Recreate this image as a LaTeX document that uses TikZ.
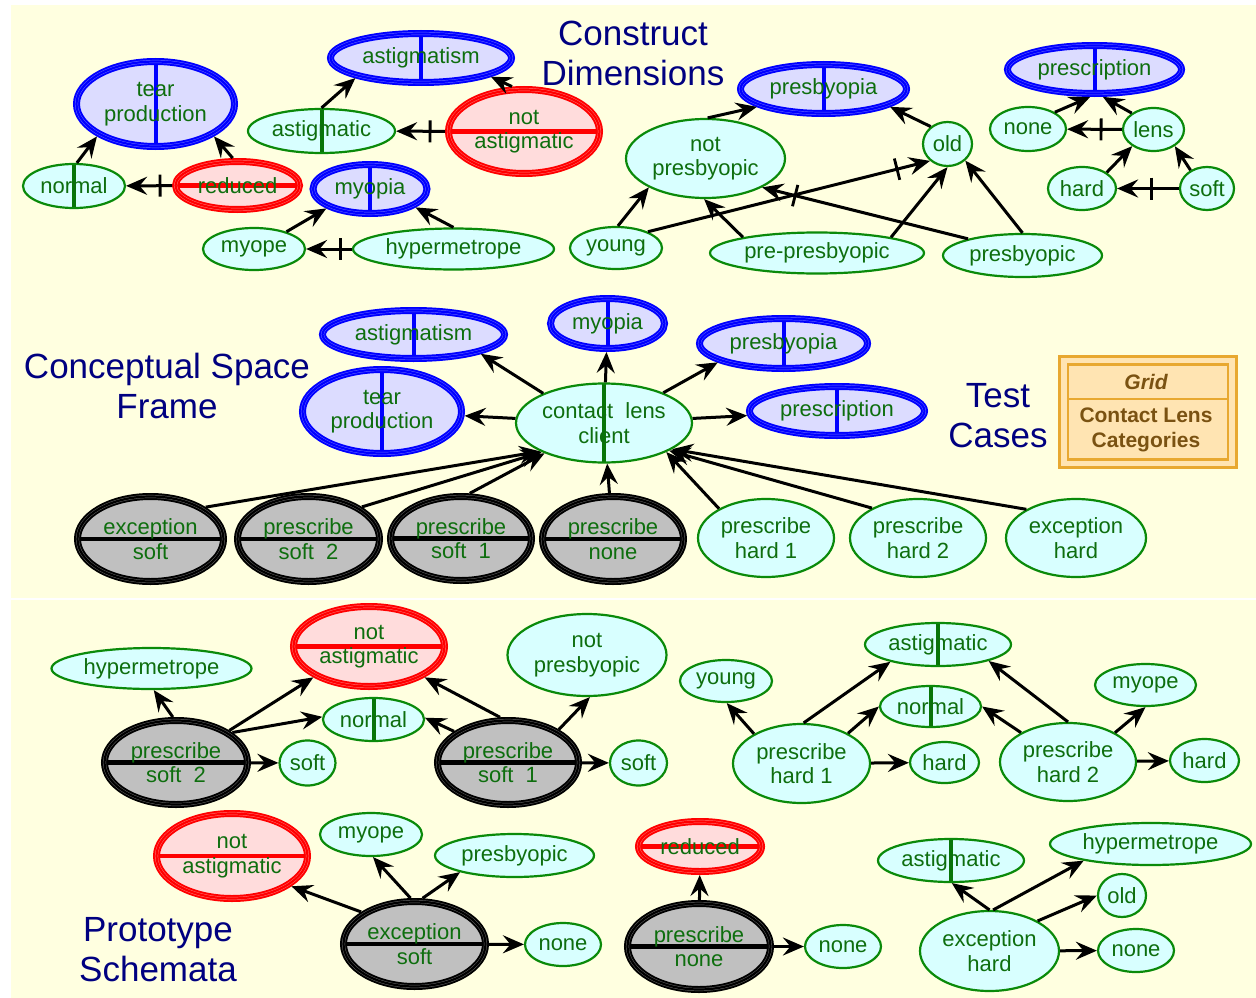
\documentclass[tikz,border=0pt]{standalone}
\usepackage{fontspec}
\setmainfont{Liberation Sans}
\usetikzlibrary{shapes.geometric,arrows.meta,decorations.markings}

\definecolor{paper}{HTML}{FFFFE0}
\definecolor{txtgreen}{HTML}{0E6E0E}
\definecolor{elemline}{HTML}{0A8A0A}
\definecolor{elemfill}{HTML}{D8FFFF}
\definecolor{confill}{HTML}{DCDCFF}
\definecolor{polefill}{HTML}{FFDCDC}
\definecolor{catfill}{HTML}{C0C0C0}
\definecolor{navytxt}{HTML}{000080}
\definecolor{gridline}{HTML}{E8A830}
\definecolor{gridfill}{HTML}{FFE4B2}
\definecolor{gridtxt}{HTML}{7A5212}

\newcommand{\nodesize}{\fontsize{22}{24.5}\selectfont}
\newcommand{\titlesize}{\fontsize{35}{40}\selectfont}

\tikzset{
  base/.style={ellipse, inner sep=0pt, text=txtgreen, font=\nodesize, align=center},
  sz/.style 2 args={minimum width=#1pt, minimum height=#2pt},
  elem/.style={base, draw=elemline, line width=2.2pt, fill=elemfill, outer sep=1.1pt},
  vsplit/.style={path picture={\draw[#1, line width=4pt] (path picture bounding box.north) -- (path picture bounding box.south);}},
  hsplit/.style={path picture={\draw[#1, line width=4.5pt] (path picture bounding box.west) -- (path picture bounding box.east);}},
  elemv/.style={elem, vsplit=elemline!85!black},
  triple/.style 2 args={draw=#1, line width=7pt, outer sep=3.5pt,
     postaction={draw=#2, line width=3.1pt},
     postaction={draw=#1, line width=2.2pt}},
  construct/.style={base, fill=confill, triple={blue}{blue!60!white}, vsplit=blue},
  pole/.style={base, fill=polefill, triple={red}{red!55!white}, hsplit=red},
  cat/.style={base, fill=catfill, triple={black}{black!60}, hsplit=black},
  arr/.style={line width=3pt, -{Stealth[length=21pt, width=18pt, inset=7.5pt]}},
  neg/.style={arr, postaction={decorate}, decoration={markings,
     mark=at position -34pt with {\draw[-, line width=2.8pt] (0pt,-11pt) -- (0pt,11pt);}}},
  heading/.style={text=navytxt, font=\titlesize, align=center, inner sep=0pt},
}

\begin{document}
\begin{tikzpicture}[x=1pt, y=-1pt]
\useasboundingbox (0,0) rectangle (1256,998);
\fill[white] (0,0) rectangle (1256,998);
\fill[paper] (11,5) rectangle (1256,998);
\fill[white] (0,598) rectangle (1256,600);

% ---------- Construct dimensions ----------
\node (tConstruct) [heading] at (633,53) {Construct\\Dimensions};

\node (tpA)    [construct, sz={158}{85}] at (155.5,104) {tear\\production};
\node (astA)   [construct, sz={181}{49}] at (421,58) {astigmatism};
\node (astgA)  [elemv, sz={147}{44}] at (321.5,131) {astigmatic};
\node (nastA)  [pole, sz={151}{84}] at (524,131.5) {not\\astigmatic};
\node (normA)  [elemv, sz={102}{44}] at (74,186) {normal};
\node (redA)   [pole, sz={124}{48}] at (237.5,185.5) {reduced};
\node (myoA)   [construct, sz={114}{49}] at (370,189) {myopia};
\node (myopeA) [elem, sz={102}{42}] at (254,249) {myope};
\node (hypA)   [elem, sz={201}{41}] at (453.5,249) {hypermetrope};
\node (presbA) [construct, sz={166}{49}] at (823.5,89) {presbyopia};
\node (npA)    [elem, sz={159}{79}] at (705.5,158.5) {not\\presbyopic};
\node (oldA)   [elem, sz={49}{44}] at (947.5,144) {old};
\node (youngA) [elem, sz={92}{42}] at (616,248) {young};
\node (ppA)    [elem, sz={214}{41}] at (817,253) {pre-presbyopic};
\node (pbA)    [elem, sz={159}{43}] at (1022.5,255.5) {presbyopic};
\node (rxA)    [construct, sz={174}{48}] at (1094.5,69.5) {prescription};
\node (noneA)  [elem, sz={76}{44}] at (1028,129) {none};
\node (lensA)  [elem, sz={61}{43}] at (1153.5,129.5) {lens};
\node (hardA)  [elem, sz={68}{43}] at (1082,188.5) {hard};
\node (softA)  [elem, sz={54}{43}] at (1207,188.5) {soft};

\draw[arr] (normA.83) -- (tpA.209);
\draw[arr] (redA.100) -- (tpA.331);
\draw[neg] (redA) -- (normA);
\draw[arr] (astgA.90) -- (astA.197);
\draw[arr] (nastA.105) -- (astA.345);
\draw[neg] (nastA) -- (astgA);
\draw[arr] (myopeA.28) -- (myoA.204);
\draw[arr] (hypA.90) -- (myoA.338);
\draw[neg] (hypA) -- (myopeA);
\draw[arr] (npA.87) -- (presbA.195);
\draw[arr] (oldA.134) -- (presbA.345);
\draw[arr] (youngA.85) -- (npA.207);
\draw[neg] (youngA.27) -- (oldA.224);
\draw[arr] (ppA.168) -- (npA.268);
\draw[arr] (ppA.12) -- (oldA.270);
\draw[arr] (pbA.90) -- (oldA.317);
\draw[neg] (pbA.163) -- (npA.333);
\draw[arr] (noneA.32) -- (rxA.261);
\draw[arr] (lensA.143) -- (rxA.287);
\draw[neg] (lensA) -- (noneA);
\draw[arr] (hardA.33) -- (lensA.218);
\draw[arr] (softA.132) -- (lensA.322);
\draw[neg] (softA) -- (hardA);

% ---------- Conceptual space frame ----------
\node (tFrame) [heading] at (167,386) {Conceptual Space\\Frame};
\node (tTest)  [heading] at (998,416) {Test\\Cases};

\node (clc)    [elemv, sz={176}{79}] at (604,423) {\makebox[0pt]{contact\ \ lens}\\client};
\node (astB)   [construct, sz={182}{48}] at (413.5,334.5) {astigmatism};
\node (myoB)   [construct, sz={114}{50}] at (607.5,323.5) {myopia};
\node (tpB)    [construct, sz={159}{84}] at (382,411.5) {tear\\production};
\node (presbB) [construct, sz={168}{50}] at (783.5,343.5) {presbyopia};
\node (rxB)    [construct, sz={175}{49}] at (837,411) {prescription};
\node (esB)    [cat, sz={146}{85}] at (150.5,539) {exception\\soft};
\node (ps2B)   [cat, sz={142}{85}] at (308.5,539) {prescribe\\soft\ \ 2};
\node (ps1B)   [cat, sz={141}{84}] at (461,538.5) {prescribe\\soft\ \ 1};
\node (pnB)    [cat, sz={141}{85}] at (613,539) {prescribe\\none};
\node (ph1B)   [elem, sz={136}{78}] at (766,538) {prescribe\\hard 1};
\node (ph2B)   [elem, sz={136}{78}] at (918,538) {prescribe\\hard 2};
\node (ehB)    [elem, sz={140}{78}] at (1076,538) {exception\\hard};

\draw[arr] (clc.154) -- (astB.344);
\draw[arr] (clc) -- (myoB);
\draw[arr] (clc) -- (tpB);
\draw[arr] (clc.27) -- (presbB.196);
\draw[arr] (clc) -- (rxB);
\draw[arr] (esB.30) -- (clc.204);
\draw[arr] (ps2B.31) -- (clc.205);
\draw[arr] (ps1B.79) -- (clc.207);
\draw[arr] (pnB) -- (clc);
\draw[arr] (ph1B.148) -- (clc.335);
\draw[arr] (ph2B.147) -- (clc.337);
\draw[arr] (ehB.150) -- (clc.339);

% grid of contact lens categories
\node (gridbox) [draw=gridline, line width=2.5pt, fill=gridfill, inner sep=0pt,
  minimum width=177pt, minimum height=111pt] at (1148,412) {};
\node (gridin) [draw=gridline, line width=2.5pt, inner sep=0pt,
  minimum width=160pt, minimum height=95pt] at (1148,412) {};
\draw[gridline, line width=2.5pt] (gridin.west |- 0,399) -- (gridin.east |- 0,399);
\node (gridtitle) [text=gridtxt, font=\fontsize{21}{25}\selectfont\bfseries\itshape, inner sep=0pt]
  at (1146,382) {Grid};
\node (gridname) [text=gridtxt, font=\fontsize{21}{25}\selectfont\bfseries, align=center, inner sep=0pt]
  at (1146,430) {Contact Lens\\Categories};

% ---------- Prototype schemata ----------
\node (tProto) [heading] at (158,950) {Prototype\\Schemata};

\node (hypC)   [elem, sz={200}{41}] at (151.5,668.5) {hypermetrope};
\node (nastC)  [pole, sz={151}{80}] at (369,646.5) {not\\astigmatic};
\node (npC)    [elem, sz={159}{82}] at (587,655) {not\\presbyopic};
\node (normC)  [elemv, sz={101}{43}] at (373.5,719.5) {normal};
\node (ps2C)   [cat, sz={143}{84}] at (176,762.5) {prescribe\\soft\ \ 2};
\node (softC1) [elem, sz={56}{45}] at (307.5,763) {soft};
\node (ps1C)   [cat, sz={141}{84}] at (508,762.5) {prescribe\\soft\ \ 1};
\node (softC2) [elem, sz={57}{45}] at (638.5,763) {soft};

\node (youngC) [elem, sz={92}{42}] at (726,681) {young};
\node (astgC)  [elemv, sz={146}{43}] at (938,644.5) {astigmatic};
\node (normD)  [elemv, sz={101}{41}] at (930.5,706.5) {normal};
\node (myopeC) [elem, sz={101}{42}] at (1145.5,685) {myope};
\node (ph1C)   [elem, sz={137}{79}] at (801.5,763.5) {prescribe\\hard 1};
\node (hardC1) [elem, sz={69}{41}] at (944.5,762.5) {hard};
\node (ph2C)   [elem, sz={136}{78}] at (1068,762) {prescribe\\hard 2};
\node (hardC2) [elem, sz={69}{43}] at (1204.5,760.5) {hard};

\node (nastD)  [pole, sz={151}{85}] at (232,856) {not\\astigmatic};
\node (myopeD) [elem, sz={102}{43}] at (371,834.5) {myope};
\node (pbD)    [elem, sz={159}{43}] at (514.5,855.5) {presbyopic};
\node (esD)    [cat, sz={142}{85}] at (414.5,944) {exception\\soft};
\node (noneD1) [elem, sz={76}{43}] at (563,944.5) {none};
\node (redD)   [pole, sz={123}{50}] at (700,846.5) {reduced};
\node (pnD)    [cat, sz={143}{86}] at (699,946.5) {prescribe\\none};
\node (noneD2) [elem, sz={76}{43}] at (843,946.5) {none};
\node (astgD)  [elemv, sz={146}{43}] at (951,860.5) {astigmatic};
\node (hypD)   [elem, sz={201}{42}] at (1150.5,844) {hypermetrope};
\node (oldD)   [elem, sz={48}{43}] at (1122,895.5) {old};
\node (noneD3) [elem, sz={76}{43}] at (1136,950.5) {none};
\node (ehD)    [elem, sz={139}{80}] at (989.5,951) {exception\\hard};

\draw[arr] (ps2C.94) -- (hypC.276);
\draw[arr] (ps2C.31) -- (nastC.209);
\draw[arr] (ps2C.28) -- (normC.177);
\draw[arr] (ps2C) -- (softC1);
\draw[arr] (ps1C.100) -- (nastC.331);
\draw[arr] (ps1C.150) -- (normC.2);
\draw[arr] (ps1C.33) -- (npC.274);
\draw[arr] (ps1C) -- (softC2);

\draw[arr] (ph1C.148) -- (youngC.272);
\draw[arr] (ph1C.87) -- (astgC.200);
\draw[arr] (ph1C.33) -- (normD.180);
\draw[arr] (ph1C) -- (hardC1);
\draw[arr] (ph2C.90) -- (astgC.342);
\draw[arr] (ph2C.148) -- (normD.0);
\draw[arr] (ph2C.32) -- (myopeC.270);
\draw[arr] (ph2C) -- (hardC2);

\draw[arr] (esD.149) -- (nastD.333);
\draw[arr] (esD.95) -- (myopeD.275);
\draw[arr] (esD.80) -- (pbD.197);
\draw[arr] (esD) -- (noneD1);
\draw[arr] (pnD) -- (redD);
\draw[arr] (pnD) -- (noneD2);
\draw[arr] (ehD.90) -- (astgD.272);
\draw[arr] (ehD.85) -- (hypD.194);
\draw[arr] (ehD.32) -- (oldD.180);
\draw[arr] (ehD) -- (noneD3);
\end{tikzpicture}
\end{document}
